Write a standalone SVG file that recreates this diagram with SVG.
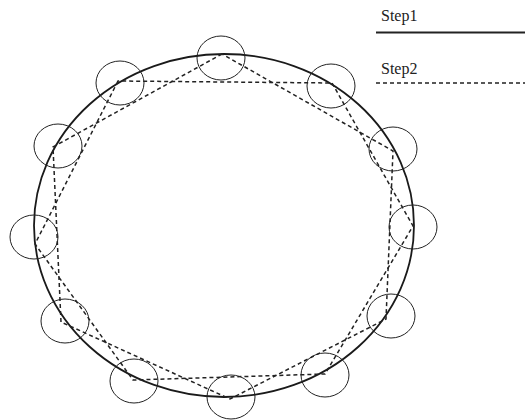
<svg xmlns="http://www.w3.org/2000/svg" width="525" height="420" viewBox="0 0 525 420">
<style>
.big{fill:none;stroke:#1a1a1a;stroke-width:1.8}
.sm{fill:none;stroke:#222;stroke-width:1}
.dash{fill:none;stroke:#222;stroke-width:1.5;stroke-dasharray:4 3}
.lbl{font-family:"Liberation Serif",serif;font-size:16px;fill:#222}
</style>
<rect width="525" height="420" fill="#fff"/>
<g id="outer"><ellipse class="big" cx="224" cy="225.5" rx="190" ry="171.5"/></g>
<g id="connectors">
<polygon class="dash" points="222,54 53,147 61,322 230,399 386,319 393,151"/>
<polygon class="dash" points="118,81 35,244 133,380 325,374 413,226 332,83"/>
</g>
<g id="n1"><ellipse class="sm" cx="221" cy="58" rx="24" ry="22"/></g>
<g id="n2"><ellipse class="sm" cx="120" cy="83" rx="24" ry="22"/></g>
<g id="n3"><ellipse class="sm" cx="58" cy="146" rx="24" ry="22"/></g>
<g id="n4"><ellipse class="sm" cx="34" cy="237" rx="24" ry="22"/></g>
<g id="n5"><ellipse class="sm" cx="65" cy="321" rx="24" ry="22"/></g>
<g id="n6"><ellipse class="sm" cx="134" cy="381" rx="24" ry="22"/></g>
<g id="n7"><ellipse class="sm" cx="231" cy="397" rx="24" ry="22"/></g>
<g id="n8"><ellipse class="sm" cx="325" cy="375" rx="24" ry="22"/></g>
<g id="n9"><ellipse class="sm" cx="391" cy="316" rx="24" ry="22"/></g>
<g id="n10"><ellipse class="sm" cx="413" cy="227" rx="24" ry="22"/></g>
<g id="n11"><ellipse class="sm" cx="393" cy="149" rx="24" ry="22"/></g>
<g id="n12"><ellipse class="sm" cx="331" cy="86" rx="24" ry="22"/></g>
<g id="legend">
<text class="lbl" x="381" y="21">Step1</text>
<line x1="376" y1="32.5" x2="525" y2="32.5" stroke="#222" stroke-width="1.8"/>
<text class="lbl" x="381" y="74">Step2</text>
<line class="dash" x1="376" y1="83" x2="525" y2="83"/>
</g>
</svg>
